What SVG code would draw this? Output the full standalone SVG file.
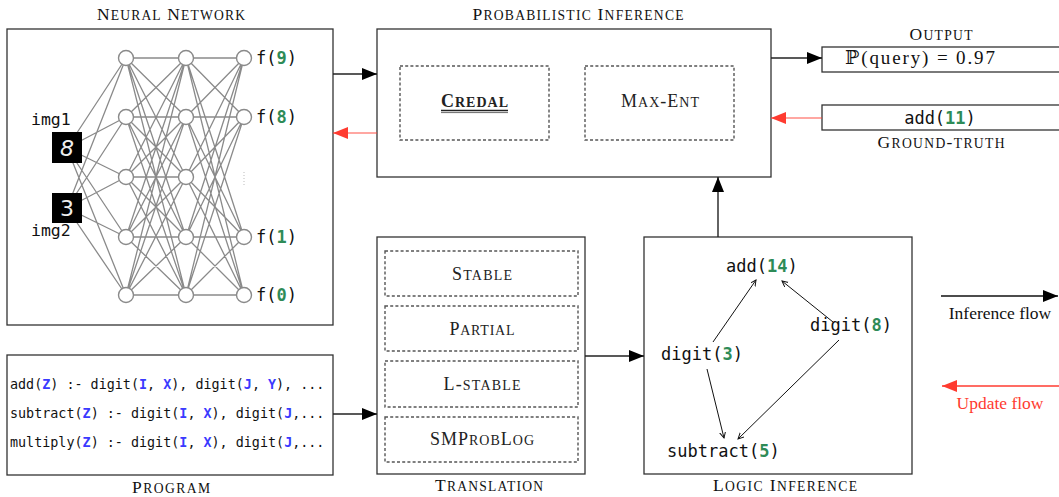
<svg xmlns="http://www.w3.org/2000/svg" width="1059" height="497" viewBox="0 0 1059 497">
<style>
.box{fill:#fff;stroke:#333;stroke-width:1.3}
.dbox{fill:none;stroke:#555;stroke-width:1.4;stroke-dasharray:3 2.2}
.title{font-family:"Liberation Serif","DejaVu Serif",serif;font-size:17.5px;fill:#111;text-anchor:middle}
.sc{font-family:"Liberation Serif","DejaVu Serif",serif;font-size:18px;fill:#222;text-anchor:middle}
.s{font-size:13.6px}
.s2{font-size:14px}
.mono{font-family:"DejaVu Sans Mono","Liberation Mono",monospace;fill:#111}
.g{fill:#2e8b57;font-weight:bold}
.b{fill:#3a3aff;font-weight:bold}
.nn{stroke:#8a8a8a;stroke-width:1.3;fill:none}
.node{fill:#fff;stroke:#8a8a8a;stroke-width:1.4}
.serif{font-family:"Liberation Serif","DejaVu Serif",serif;font-size:17.5px}
</style>
<defs>
<marker id="ab" markerUnits="userSpaceOnUse" markerWidth="16" markerHeight="12" refX="15" refY="6" orient="auto"><path d="M0,0 L15,6 L0,12 Z" fill="#000"/></marker>
<marker id="ar" markerUnits="userSpaceOnUse" markerWidth="16" markerHeight="12" refX="15" refY="6" orient="auto"><path d="M0,0 L15,6 L0,12 Z" fill="#ff3b30"/></marker>
<marker id="as" markerUnits="userSpaceOnUse" markerWidth="7" markerHeight="7" refX="6" refY="3" orient="auto"><path d="M0,0 L6,3 L0,6" fill="none" stroke="#111" stroke-width="1"/></marker>
</defs>

<g id="neural-network">
<rect class="box" x="7" y="29" width="326" height="296"/>
<text class="title" x="171" y="20" textLength="148" lengthAdjust="spacing">N<tspan class="s">EURAL</tspan> N<tspan class="s">ETWORK</tspan></text>
<path class="nn" d="M67 148L126 58M67 148L126 117M67 148L126 177M67 148L126 237M67 148L126 295M67 208L126 58M67 208L126 117M67 208L126 177M67 208L126 237M67 208L126 295
M126 58L186 58M126 58L186 117M126 58L186 177M126 58L186 237M126 58L186 295
M126 117L186 58M126 117L186 117M126 117L186 177M126 117L186 237M126 117L186 295
M126 177L186 58M126 177L186 117M126 177L186 177M126 177L186 237M126 177L186 295
M126 237L186 58M126 237L186 117M126 237L186 177M126 237L186 237M126 237L186 295
M126 295L186 58M126 295L186 117M126 295L186 177M126 295L186 237M126 295L186 295
M186 58L244 58M186 58L244 117M186 58L244 237M186 58L244 295
M186 117L244 58M186 117L244 117M186 117L244 237M186 117L244 295
M186 177L244 58M186 177L244 117M186 177L244 237M186 177L244 295
M186 237L244 58M186 237L244 117M186 237L244 237M186 237L244 295
M186 295L244 58M186 295L244 117M186 295L244 237M186 295L244 295"/>
<g>
<circle class="node" cx="126" cy="58" r="7.5"/><circle class="node" cx="126" cy="117" r="7.5"/><circle class="node" cx="126" cy="177" r="7.5"/><circle class="node" cx="126" cy="237" r="7.5"/><circle class="node" cx="126" cy="295" r="7.5"/>
<circle class="node" cx="186" cy="58" r="7.5"/><circle class="node" cx="186" cy="117" r="7.5"/><circle class="node" cx="186" cy="177" r="7.5"/><circle class="node" cx="186" cy="237" r="7.5"/><circle class="node" cx="186" cy="295" r="7.5"/>
<circle class="node" cx="244" cy="58" r="7.5"/><circle class="node" cx="244" cy="117" r="7.5"/><circle class="node" cx="244" cy="237" r="7.5"/><circle class="node" cx="244" cy="295" r="7.5"/>
</g>
<line x1="244" y1="172" x2="244" y2="185" stroke="#bbb" stroke-width="1" stroke-dasharray="1 2"/>
<rect x="52" y="132" width="30" height="31" fill="#000"/>
<text x="67" y="156" font-family="DejaVu Sans, sans-serif" font-style="italic" font-weight="300" font-size="22" fill="#eee" text-anchor="middle">8</text>
<rect x="52" y="193" width="30" height="30" fill="#000"/>
<text x="67" y="216" font-family="DejaVu Sans, sans-serif" font-size="22" fill="#eee" text-anchor="middle">3</text>
<text class="mono" x="31" y="125" font-size="16.5">img1</text>
<text class="mono" x="31" y="236" font-size="16.5">img2</text>
<text class="mono" x="256" y="64" font-size="17">f(<tspan class="g">9</tspan>)</text>
<text class="mono" x="256" y="123" font-size="17">f(<tspan class="g">8</tspan>)</text>
<text class="mono" x="256" y="243" font-size="17">f(<tspan class="g">1</tspan>)</text>
<text class="mono" x="256" y="301" font-size="17">f(<tspan class="g">0</tspan>)</text>
</g>

<g id="probabilistic-inference">
<rect class="box" x="377" y="29" width="394" height="148"/>
<text class="title" x="578" y="20" textLength="211" lengthAdjust="spacing">P<tspan class="s">ROBABILISTIC</tspan> I<tspan class="s">NFERENCE</tspan></text>
<rect class="dbox" x="400" y="66" width="149" height="74"/>
<rect class="dbox" x="585" y="66" width="149" height="74"/>
<text class="sc" x="474.5" y="107" font-weight="bold" textLength="67" lengthAdjust="spacing">C<tspan class="s2">REDAL</tspan></text>
<line x1="441" y1="110.5" x2="508" y2="110.5" stroke="#222" stroke-width="1.3"/>
<line x1="441" y1="112.6" x2="508" y2="112.6" stroke="#444" stroke-width="0.8"/>
<text class="sc" x="660" y="107" textLength="78" lengthAdjust="spacing">M<tspan class="s2">AX</tspan>-E<tspan class="s2">NT</tspan></text>
</g>

<g id="output">
<text class="title" x="941" y="40" textLength="63" lengthAdjust="spacing">O<tspan class="s">UTPUT</tspan></text>
<rect class="box" x="822" y="47" width="250" height="25"/>
<text x="920" y="64" font-family="Liberation Serif, DejaVu Serif, serif" font-size="19" text-anchor="middle" fill="#111" textLength="150" lengthAdjust="spacing">ℙ(query) = 0.97</text>
</g>

<g id="ground-truth">
<rect class="box" x="822" y="105" width="250" height="25"/>
<text class="mono" x="940" y="124" font-size="17" text-anchor="middle">add(<tspan class="g">11</tspan>)</text>
<text class="title" x="941" y="148" textLength="127" lengthAdjust="spacing">G<tspan class="s">ROUND</tspan>-<tspan class="s">TRUTH</tspan></text>
</g>

<g id="program">
<rect class="box" x="7" y="355" width="326" height="120"/>
<text class="mono" x="10" y="389" font-size="13.4">add(<tspan class="b">Z</tspan>) :- digit(<tspan class="b">I</tspan>, <tspan class="b">X</tspan>), digit(<tspan class="b">J</tspan>, <tspan class="b">Y</tspan>), ...</text>
<text class="mono" x="10" y="418" font-size="13.4">subtract(<tspan class="b">Z</tspan>) :- digit(<tspan class="b">I</tspan>, <tspan class="b">X</tspan>), digit(<tspan class="b">J</tspan>,...</text>
<text class="mono" x="10" y="447" font-size="13.4">multiply(<tspan class="b">Z</tspan>) :- digit(<tspan class="b">I</tspan>, <tspan class="b">X</tspan>), digit(<tspan class="b">J</tspan>,...</text>
<text class="title" x="171" y="493" textLength="78" lengthAdjust="spacing">P<tspan class="s">ROGRAM</tspan></text>
</g>

<g id="translation">
<rect class="box" x="377" y="237" width="208" height="237"/>
<rect class="dbox" x="385" y="251" width="193" height="45"/>
<rect class="dbox" x="385" y="306" width="193" height="45"/>
<rect class="dbox" x="385" y="361" width="193" height="46"/>
<rect class="dbox" x="385" y="417" width="193" height="45"/>
<text class="sc" x="482" y="280" textLength="60" lengthAdjust="spacing">S<tspan class="s2">TABLE</tspan></text>
<text class="sc" x="482" y="335" textLength="65" lengthAdjust="spacing">P<tspan class="s2">ARTIAL</tspan></text>
<text class="sc" x="482" y="390" textLength="77" lengthAdjust="spacing">L-<tspan class="s2">STABLE</tspan></text>
<text class="sc" x="482" y="445" textLength="104" lengthAdjust="spacing">SMP<tspan class="s2">ROB</tspan>L<tspan class="s2">OG</tspan></text>
<text class="title" x="489" y="491" textLength="108" lengthAdjust="spacing">T<tspan class="s">RANSLATION</tspan></text>
</g>

<g id="logic-inference">
<rect class="box" x="644" y="237" width="268" height="237"/>
<text class="mono" x="726" y="272" font-size="17">add(<tspan class="g">14</tspan>)</text>
<text class="mono" x="810" y="331" font-size="17">digit(<tspan class="g">8</tspan>)</text>
<text class="mono" x="661" y="360" font-size="17">digit(<tspan class="g">3</tspan>)</text>
<text class="mono" x="667" y="457" font-size="17">subtract(<tspan class="g">5</tspan>)</text>
<g stroke="#111" stroke-width="1" fill="none">
<line x1="713" y1="342" x2="756" y2="280" marker-end="url(#as)"/>
<line x1="833" y1="322" x2="782" y2="281" marker-end="url(#as)"/>
<line x1="707" y1="369" x2="724" y2="438" marker-end="url(#as)"/>
<line x1="839" y1="340" x2="738" y2="439" marker-end="url(#as)"/>
</g>
<text class="title" x="785" y="491" textLength="144" lengthAdjust="spacing">L<tspan class="s">OGIC</tspan> I<tspan class="s">NFERENCE</tspan></text>
</g>

<g id="connectors" fill="none" stroke-width="1.4">
<line x1="333" y1="74" x2="377" y2="74" stroke="#222" marker-end="url(#ab)"/>
<line x1="377" y1="133" x2="333" y2="133" stroke="#ff3b30" stroke-opacity="0.6" marker-end="url(#ar)"/>
<line x1="771" y1="58" x2="822" y2="58" stroke="#222" marker-end="url(#ab)"/>
<line x1="822" y1="118" x2="771" y2="118" stroke="#ff3b30" stroke-opacity="0.6" marker-end="url(#ar)"/>
<line x1="718" y1="237" x2="718" y2="177" stroke="#222" marker-end="url(#ab)"/>
<line x1="585" y1="356" x2="644" y2="356" stroke="#222" marker-end="url(#ab)"/>
<line x1="333" y1="414" x2="377" y2="414" stroke="#222" marker-end="url(#ab)"/>
</g>

<g id="legend">
<line x1="941" y1="296" x2="1058" y2="296" stroke="#111" stroke-width="1.5" marker-end="url(#ab)"/>
<text class="serif" x="1000" y="319" text-anchor="middle" fill="#111">Inference flow</text>
<line x1="1059" y1="386" x2="942" y2="386" stroke="#ff3b30" stroke-width="1.5" marker-end="url(#ar)"/>
<text class="serif" x="1000" y="409" text-anchor="middle" fill="#ff3b30">Update flow</text>
</g>
</svg>
